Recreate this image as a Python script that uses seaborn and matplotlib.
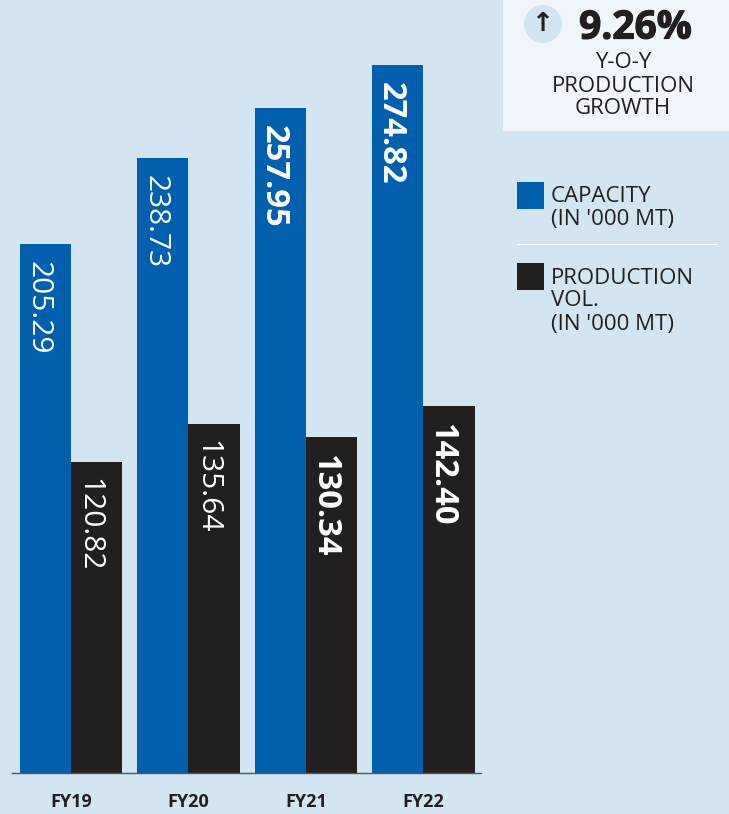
import matplotlib
matplotlib.use("Agg")
import matplotlib.pyplot as plt
import matplotlib.patheffects as pe
from matplotlib.patches import Rectangle, Circle
from matplotlib.lines import Line2D
import pandas as pd
import seaborn as sns

years = ["FY19", "FY20", "FY21", "FY22"]
capacity = [205.29, 238.73, 257.95, 274.82]
production = [120.82, 135.64, 130.34, 142.40]
value_text_capacity = ["205.29", "238.73", "257.95", "274.82"]
value_text_production = ["120.82", "135.64", "130.34", "142.40"]
bold_years = ["FY21", "FY22"]
series_names = ["CAPACITY", "PRODUCTION"]
growth = "9.26%"

BG = "#d2e5f1"
BLUE = "#0060ae"
DARK = "#231f20"
W, H = 729, 814

sns.set_theme(style="white")
plt.rcParams["font.family"] = ["Open Sans", "DejaVu Sans"]

df = pd.DataFrame({
    "year": years * 2,
    "series": [series_names[0]] * 4 + [series_names[1]] * 4,
    "value": capacity + production,
    "text": value_text_capacity + value_text_production,
})

fig = plt.figure(figsize=(W / 100, H / 100), dpi=100, facecolor=BG)
ax = fig.add_axes([12 / W, (H - 773) / H, 469 / W, 773 / H], facecolor=BG)
sns.barplot(data=df, x="year", y="value", hue="series", order=years,
            hue_order=series_names, palette=[BLUE, DARK], width=0.873,
            gap=0, saturation=1, legend=False, ax=ax, linewidth=0)
ax.set_xlim(-0.501, 3.491)
ax.set_ylim(0, 300)
ax.set_xlabel("")
ax.set_ylabel("")
ax.set_yticks([])
for s in ["top", "left", "right"]:
    ax.spines[s].set_visible(False)
ax.spines["bottom"].set_color("#55585a")
ax.spines["bottom"].set_linewidth(1.0)
ax.tick_params(axis="x", length=0, pad=14.5)
for lab in ax.get_xticklabels():
    lab.set_fontsize(13)
    lab.set_fontweight("bold")
    lab.set_color(DARK)

for cont, ser in zip(ax.containers, series_names):
    sub = df[df.series == ser]
    for bar, txt, yr in zip(cont, sub["text"], sub["year"]):
        bold = yr in bold_years
        ax.annotate(txt, (bar.get_x() + bar.get_width() / 2, bar.get_height()),
                    xytext=(-5.2, -12), textcoords="offset points",
                    rotation=-90, ha="center", va="top", color="white",
                    fontsize=23.6 if bold else 21.5,
                    fontweight="bold" if bold else "normal")


def fx(px):
    return px / W


def fy(py):
    return 1 - py / H


fig.add_artist(Rectangle((fx(503), fy(131)), 226 / W, 131 / H, transform=fig.transFigure,
                         facecolor="#f0f6fb", edgecolor="none"))
fig.add_artist(Rectangle((fx(517), fy(209)), 27 / W, 27 / H, transform=fig.transFigure,
                         facecolor=BLUE, edgecolor="none"))
fig.add_artist(Rectangle((fx(517), fy(290)), 27 / W, 27 / H, transform=fig.transFigure,
                         facecolor=DARK, edgecolor="none"))
fig.add_artist(Line2D([fx(517), fx(716)], [fy(244), fy(244)], color="white", lw=0.8))
fig.add_artist(Circle((543, H - 24), 19, transform=None, facecolor=BG, edgecolor="none"))

fig.text(fx(543), fy(24), "↑", ha="center", va="center", fontsize=19, fontweight="bold",
         color=DARK, family=["DejaVu Sans"])
gt = fig.text(fx(635.5), fy(28), growth, ha="center", va="center", fontsize=28, fontweight="bold", color=DARK)
gt.set_path_effects([pe.withStroke(linewidth=0.9, foreground=DARK)])
for t, y in zip(["Y-O-Y", "PRODUCTION", "GROWTH"], [63, 86, 108.5]):
    fig.text(fx(623), fy(y), t, ha="center", va="center", fontsize=16, color=DARK)
for t, y in zip(["CAPACITY", "(IN '000 MT)", "PRODUCTION", "VOL.", "(IN '000 MT)"],
                [196, 220, 278, 301, 324]):
    fig.text(fx(551), fy(y), t, ha="left", va="center", fontsize=16, color=DARK)

fig.savefig("out.png", dpi=100, facecolor=BG)
